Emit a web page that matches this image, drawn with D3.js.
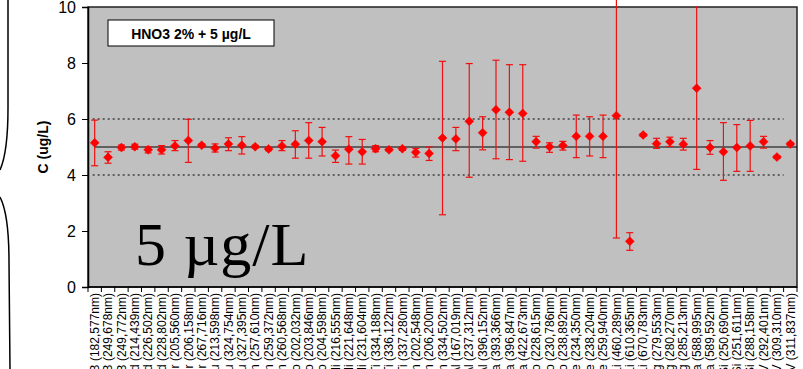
<!DOCTYPE html>
<html>
<head>
<meta charset="utf-8">
<script src="https://cdn.jsdelivr.net/npm/d3@7"></script>
<style>
body { margin: 0; background: #fff; }
svg { display: block; font-family: Arial, "Liberation Sans", sans-serif; }
</style>
</head>
<body>
<div id="chart"></div>
<script>
var categories = [
    "B (182,577nm)", "B (249,678nm)", "B (249,772nm)",
    "Cd (214,439nm)", "Cd (226,502nm)", "Cd (228,802nm)",
    "Cr (205,560nm)", "Cr (206,158nm)", "Cr (267,716nm)",
    "Cu (213,598nm)", "Cu (324,754nm)", "Cu (327,395nm)",
    "Mn (257,610nm)", "Mn (259,372nm)", "Mn (260,568nm)",
    "Mo (202,032nm)", "Mo (203,846nm)", "Mo (204,598nm)",
    "Ni (216,555nm)", "Ni (221,648nm)", "Ni (231,604nm)",
    "Ti (334,188nm)", "Ti (336,122nm)", "Ti (337,280nm)",
    "Zn (202,548nm)", "Zn (206,200nm)", "Zn (334,502nm)",
    "Al (167,019nm)", "Al (237,312nm)", "Al (396,152nm)",
    "Ca (393,366nm)", "Ca (396,847nm)", "Ca (422,673nm)",
    "Co (228,615nm)", "Co (230,786nm)", "Co (238,892nm)",
    "Fe (234,350nm)", "Fe (238,204nm)", "Fe (259,940nm)",
    "Li (460,289nm)", "Li (610,365nm)", "Li (670,783nm)",
    "Mg (279,553nm)", "Mg (280,270nm)", "Mg (285,213nm)",
    "Na (588,995nm)", "Na (589,592nm)",
    "Si (250,690nm)", "Si (251,611nm)", "Si (288,158nm)",
    "V (292,401nm)", "V (309,310nm)", "V (311,837nm)"
];
var values = [
    5.15, 4.63, 4.98, 5.01, 4.90, 4.90, 5.04, 5.23, 5.06, 4.96,
    5.11, 5.06, 5.01, 4.93, 5.04, 5.10, 5.23, 5.19, 4.69, 4.92,
    4.83, 4.94, 4.90, 4.94, 4.81, 4.77, 5.32, 5.29, 5.92, 5.51,
    6.33, 6.24, 6.20, 5.19, 5.01, 5.05, 5.38, 5.38, 5.38, 6.12,
    1.63, 5.43, 5.12, 5.19, 5.10, 7.10, 4.98, 4.83, 4.98, 5.04,
    5.19, 4.64, 5.11
];
var upper = [
    5.96, 4.83, 5.07, 5.10, 5.01, 5.05, 5.23, 5.99, 5.11, 5.11,
    5.33, 5.37, 5.06, 4.99, 5.23, 5.58, 5.87, 5.70, 4.89, 5.37,
    5.27, 5.05, 4.94, 5.00, 4.95, 5.00, 8.06, 5.70, 7.98, 6.08,
    8.10, 7.94, 7.94, 5.38, 5.15, 5.20, 6.14, 6.08, 6.14, 10.4,
    1.94, 5.48, 5.31, 5.35, 5.31, 10.04, 5.23, 5.87, 5.80, 5.95,
    5.38, 4.69, 5.16
];
var lower = [
    4.33, 4.42, 4.89, 4.92, 4.79, 4.75, 4.87, 4.45, 5.01, 4.82,
    4.87, 4.75, 4.96, 4.87, 4.87, 4.60, 4.60, 4.68, 4.45, 4.39,
    4.39, 4.83, 4.86, 4.88, 4.64, 4.52, 2.58, 4.87, 3.92, 4.90,
    4.58, 4.55, 4.49, 4.96, 4.81, 4.89, 4.62, 4.68, 4.62, 1.75,
    1.31, 5.38, 4.95, 5.02, 4.89, 4.20, 4.74, 3.81, 4.13, 4.13,
    4.96, 4.59, 5.06
];
var yTicks = [0, 2, 4, 6, 8, 10];
var target = 5, limLow = 4, limHigh = 6;

(function() {
var W = 803, H = 369;
var mLeft = 88, mRight = 797, mTop = 7, mBottom = 287;

var svg = d3.select('#chart').append('svg')
    .attr('width', W).attr('height', H);

var x = d3.scaleBand().domain(categories).range([mLeft, mRight]).padding(0);
var y = d3.scaleLinear().domain([0, 10]).range([mBottom, mTop]);

// plot area
svg.append('rect')
    .attr('x', mLeft).attr('y', mTop)
    .attr('width', mRight - mLeft).attr('height', mBottom - mTop)
    .style('fill', '#c0c0c0')
    .style('stroke', '#222').style('stroke-width', 1.5);

// brace on the far left
svg.append('path')
    .attr('d', 'M8,0 L8,108 Q8,152 0,170 M0,197 Q9,214 9,262 L10,369')
    .style('fill', 'none').style('stroke', '#000').style('stroke-width', 1.5);

// y axis
var yAxis = svg.append('g')
    .attr('transform', 'translate(' + mLeft + ',0)')
    .call(d3.axisLeft(y).tickValues(yTicks).tickSize(6).tickPadding(6));
yAxis.select('.domain').style('stroke', '#000').style('stroke-width', 1.5);
yAxis.selectAll('.tick line').style('stroke', '#000');
yAxis.selectAll('text').style('font-size', '16px').style('fill', '#000')
    .style('font-family', 'Arial, "Liberation Sans", sans-serif');

svg.append('text')
    .attr('transform', 'translate(48,' + y(5) + ') rotate(-90)')
    .attr('text-anchor', 'middle')
    .style('font-size', '14px').style('font-weight', 'bold')
    .text('C (ug/L)');

// x axis
svg.append('line')
    .attr('x1', mLeft).attr('x2', mRight)
    .attr('y1', mBottom).attr('y2', mBottom)
    .style('stroke', '#000').style('stroke-width', 1.5);
var bounds = categories.map(function(c) { return x(c); }).concat([mRight]);
svg.selectAll('.xtick').data(bounds).enter().append('line')
    .attr('class', 'xtick')
    .attr('x1', function(d) { return d; }).attr('x2', function(d) { return d; })
    .attr('y1', mBottom).attr('y2', mBottom + 5)
    .style('stroke', '#000');
svg.selectAll('.xlab').data(categories).enter().append('text')
    .attr('class', 'xlab')
    .attr('transform', function(d) {
        return 'translate(' + (x(d) + x.bandwidth() / 2) + ',' + (mBottom + 6) + ') rotate(-90)';
    })
    .attr('text-anchor', 'end')
    .attr('dy', '0.35em')
    .style('font-size', '12px')
    .text(function(d) { return d; });

// reference lines
var x0 = x(categories[0]) + x.bandwidth() / 2 - 2,
    x1 = x(categories[categories.length - 1]);
[limLow, limHigh].forEach(function(v) {
    svg.append('line')
        .attr('x1', x0).attr('x2', x1)
        .attr('y1', y(v)).attr('y2', y(v))
        .style('stroke', '#000').style('stroke-width', 1.2)
        .style('stroke-dasharray', '2,3');
});
svg.append('line')
    .attr('x1', x(categories[0]) + x.bandwidth() / 2).attr('x2', mRight)
    .attr('y1', y(target)).attr('y2', y(target))
    .style('stroke', '#000').style('stroke-width', 1.2);

// error bars
var pts = categories.map(function(c, i) {
    return {cx: x(c) + x.bandwidth() / 2, v: values[i], hi: upper[i], lo: lower[i]};
});
var eb = svg.append('g').style('stroke', '#f01010').style('stroke-width', 1.2);
eb.selectAll('.ev').data(pts).enter().append('line')
    .attr('x1', function(d) { return d.cx; }).attr('x2', function(d) { return d.cx; })
    .attr('y1', function(d) { return y(d.hi); }).attr('y2', function(d) { return y(d.lo); });
eb.selectAll('.eh').data(pts.filter(function(d) { return d.hi <= 10; })).enter().append('line')
    .attr('x1', function(d) { return d.cx - 3.5; }).attr('x2', function(d) { return d.cx + 3.5; })
    .attr('y1', function(d) { return y(d.hi); }).attr('y2', function(d) { return y(d.hi); });
eb.selectAll('.el').data(pts).enter().append('line')
    .attr('x1', function(d) { return d.cx - 3.5; }).attr('x2', function(d) { return d.cx + 3.5; })
    .attr('y1', function(d) { return y(d.lo); }).attr('y2', function(d) { return y(d.lo); });

// diamond markers
svg.selectAll('.pt').data(pts).enter().append('path')
    .attr('d', function(d) {
        var cx = d.cx, cy = y(d.v), r = 4.5;
        return 'M' + cx + ',' + (cy - r) + 'L' + (cx + r) + ',' + cy +
            'L' + cx + ',' + (cy + r) + 'L' + (cx - r) + ',' + cy + 'Z';
    })
    .style('fill', '#ff0000').style('stroke', '#ff0000').style('stroke-width', 0.5);

// legend box
svg.append('rect')
    .attr('x', 108).attr('y', 20).attr('width', 166).attr('height', 26)
    .style('fill', '#fff').style('stroke', '#000').style('stroke-width', 1);
svg.append('text')
    .attr('x', 191).attr('y', 38.5)
    .attr('text-anchor', 'middle')
    .style('font-size', '14px').style('font-weight', 'bold')
    .text('HNO3 2% + 5 µg/L');

// big annotation
svg.append('text')
    .attr('x', 135).attr('y', 265)
    .style('font-family', '"Liberation Serif", "Times New Roman", serif')
    .style('font-size', '62px')
    .style('letter-spacing', '1px')
    .text('5 µg/L');
})();
</script>
</body>
</html>
